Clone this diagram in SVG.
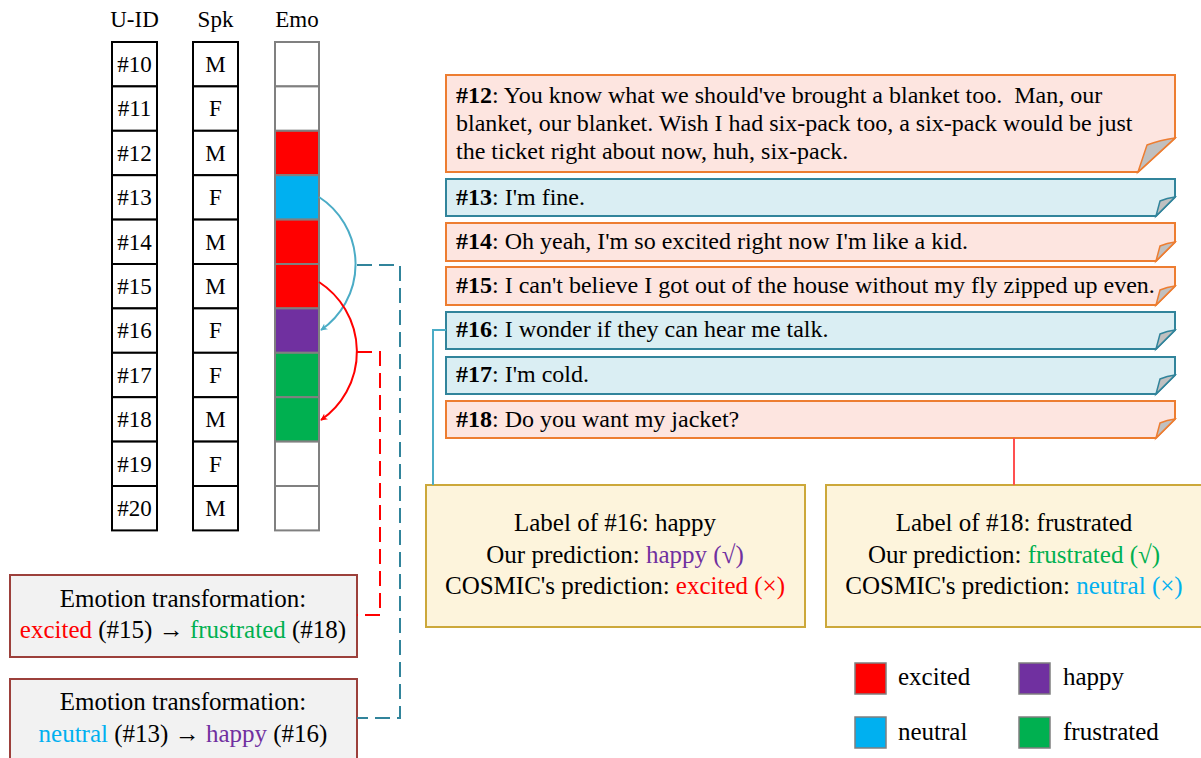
<svg xmlns="http://www.w3.org/2000/svg" width="1201" height="758" viewBox="0 0 1201 758">
<defs>
<style>
text{font-family:"Liberation Serif","Times New Roman",serif;fill:#000;}
.t{font-size:23px;text-anchor:middle;}
.u{font-size:24px;}
.lg{font-size:25px;}
.c{font-size:25px;text-anchor:middle;}
.cell{fill:#fff;stroke:#000;stroke-width:2;}
.emo{stroke:#808080;stroke-width:2;}
.pk{fill:#FDE5E0;stroke:#ED7D31;stroke-width:2;}
.bl{fill:#DAEEF3;stroke:#31849B;stroke-width:2;}
.foldp{fill:#C0C0C0;stroke:#ED7D31;stroke-width:1.5;}
.foldb{fill:#C0C0C0;stroke:#31849B;stroke-width:1.5;}
.lab{fill:#FDF4DC;stroke:#CCA83A;stroke-width:2;}
.tr{fill:#F2F2F2;stroke:#9C403B;stroke-width:2;}
.leg{stroke:#7F7F7F;stroke-width:1.5;}
.red{fill:#FF0000;} .cy{fill:#00B0F0;} .pu{fill:#7030A0;} .gr{fill:#00B050;}
</style>
<marker id="ab" viewBox="0 0 10 10" refX="9" refY="5" markerWidth="7" markerHeight="7" orient="auto" markerUnits="userSpaceOnUse"><path d="M0,0 L10,5 L0,10 L3,5 Z" fill="#4BACC6"/></marker>
<marker id="ar" viewBox="0 0 10 10" refX="9" refY="5" markerWidth="7" markerHeight="7" orient="auto" markerUnits="userSpaceOnUse"><path d="M0,0 L10,5 L0,10 L3,5 Z" fill="#FF0000"/></marker>
</defs>

<g id="headers">
<text class="t" x="134.5" y="27">U-ID</text>
<text class="t" x="215.5" y="27">Spk</text>
<text class="t" x="297" y="27">Emo</text>
</g>

<g id="uid-column">
<rect class="cell" x="112" y="42" width="45" height="44.4"/>
<rect class="cell" x="112" y="86.4" width="45" height="44.4"/>
<rect class="cell" x="112" y="130.8" width="45" height="44.4"/>
<rect class="cell" x="112" y="175.2" width="45" height="44.4"/>
<rect class="cell" x="112" y="219.6" width="45" height="44.4"/>
<rect class="cell" x="112" y="264" width="45" height="44.4"/>
<rect class="cell" x="112" y="308.4" width="45" height="44.4"/>
<rect class="cell" x="112" y="352.8" width="45" height="44.4"/>
<rect class="cell" x="112" y="397.2" width="45" height="44.4"/>
<rect class="cell" x="112" y="441.6" width="45" height="44.4"/>
<rect class="cell" x="112" y="486" width="45" height="44.4"/>
<text class="t" x="134.5" y="72">#10</text>
<text class="t" x="134.5" y="116.4">#11</text>
<text class="t" x="134.5" y="160.8">#12</text>
<text class="t" x="134.5" y="205.2">#13</text>
<text class="t" x="134.5" y="249.6">#14</text>
<text class="t" x="134.5" y="294">#15</text>
<text class="t" x="134.5" y="338.4">#16</text>
<text class="t" x="134.5" y="382.8">#17</text>
<text class="t" x="134.5" y="427.2">#18</text>
<text class="t" x="134.5" y="471.6">#19</text>
<text class="t" x="134.5" y="516">#20</text>
</g>

<g id="spk-column">
<rect class="cell" x="193" y="42" width="45" height="44.4"/>
<rect class="cell" x="193" y="86.4" width="45" height="44.4"/>
<rect class="cell" x="193" y="130.8" width="45" height="44.4"/>
<rect class="cell" x="193" y="175.2" width="45" height="44.4"/>
<rect class="cell" x="193" y="219.6" width="45" height="44.4"/>
<rect class="cell" x="193" y="264" width="45" height="44.4"/>
<rect class="cell" x="193" y="308.4" width="45" height="44.4"/>
<rect class="cell" x="193" y="352.8" width="45" height="44.4"/>
<rect class="cell" x="193" y="397.2" width="45" height="44.4"/>
<rect class="cell" x="193" y="441.6" width="45" height="44.4"/>
<rect class="cell" x="193" y="486" width="45" height="44.4"/>
<text class="t" x="215.5" y="72">M</text>
<text class="t" x="215.5" y="116.4">F</text>
<text class="t" x="215.5" y="160.8">M</text>
<text class="t" x="215.5" y="205.2">F</text>
<text class="t" x="215.5" y="249.6">M</text>
<text class="t" x="215.5" y="294">M</text>
<text class="t" x="215.5" y="338.4">F</text>
<text class="t" x="215.5" y="382.8">F</text>
<text class="t" x="215.5" y="427.2">M</text>
<text class="t" x="215.5" y="471.6">F</text>
<text class="t" x="215.5" y="516">M</text>
</g>

<g id="emo-column">
<rect class="emo" fill="#fff" x="275" y="42" width="44" height="44.4"/>
<rect class="emo" fill="#fff" x="275" y="86.4" width="44" height="44.4"/>
<rect class="emo" fill="#FF0000" x="275" y="130.8" width="44" height="44.4"/>
<rect class="emo" fill="#00B0F0" x="275" y="175.2" width="44" height="44.4"/>
<rect class="emo" fill="#FF0000" x="275" y="219.6" width="44" height="44.4"/>
<rect class="emo" fill="#FF0000" x="275" y="264" width="44" height="44.4"/>
<rect class="emo" fill="#7030A0" x="275" y="308.4" width="44" height="44.4"/>
<rect class="emo" fill="#00B050" x="275" y="352.8" width="44" height="44.4"/>
<rect class="emo" fill="#00B050" x="275" y="397.2" width="44" height="44.4"/>
<rect class="emo" fill="#fff" x="275" y="441.6" width="44" height="44.4"/>
<rect class="emo" fill="#fff" x="275" y="486" width="44" height="44.4"/>
</g>

<g id="utt12">
<path class="pk" d="M446,75 H1175 V138 L1138,172 H446 Z"/>
<path class="foldp" d="M1138,172 L1147,145 Q1160,140 1175,138 Z"/>
<text class="u" x="456" y="103"><tspan font-weight="bold">#12</tspan>: You know what we should've brought a blanket too.&#160; Man, our</text>
<text class="u" x="456" y="131">blanket, our blanket. Wish I had six-pack too, a six-pack would be just</text>
<text class="u" x="456" y="159">the ticket right about now, huh, six-pack.</text>
</g>
<g id="utt13">
<path class="bl" d="M446,179 H1175 V197 L1156,216 H446 Z"/>
<path class="foldb" d="M1156,216 L1160,201 Q1167,198 1175,197 Z"/>
<text class="u" x="456" y="205"><tspan font-weight="bold">#13</tspan>: I'm fine.</text>
</g>
<g id="utt14">
<path class="pk" d="M446,223 H1175 V242 L1156,261 H446 Z"/>
<path class="foldp" d="M1156,261 L1160,246 Q1167,243 1175,242 Z"/>
<text class="u" x="456" y="249"><tspan font-weight="bold">#14</tspan>: Oh yeah, I'm so excited right now I'm like a kid.</text>
</g>
<g id="utt15">
<path class="pk" d="M446,267 H1175 V286 L1156,305 H446 Z"/>
<path class="foldp" d="M1156,305 L1160,290 Q1167,287 1175,286 Z"/>
<text class="u" x="456" y="293"><tspan font-weight="bold">#15</tspan>: I can't believe I got out of the house without my fly zipped up even.</text>
</g>
<g id="utt16">
<path class="bl" d="M446,312 H1175 V330 L1156,349 H446 Z"/>
<path class="foldb" d="M1156,349 L1160,334 Q1167,331 1175,330 Z"/>
<text class="u" x="456" y="337"><tspan font-weight="bold">#16</tspan>: I wonder if they can hear me talk.</text>
</g>
<g id="utt17">
<path class="bl" d="M446,357 H1175 V375 L1156,394 H446 Z"/>
<path class="foldb" d="M1156,394 L1160,379 Q1167,376 1175,375 Z"/>
<text class="u" x="456" y="382"><tspan font-weight="bold">#17</tspan>: I'm cold.</text>
</g>
<g id="utt18">
<path class="pk" d="M446,401 H1175 V419 L1156,438 H446 Z"/>
<path class="foldp" d="M1156,438 L1160,423 Q1167,420 1175,419 Z"/>
<text class="u" x="456" y="427"><tspan font-weight="bold">#18</tspan>: Do you want my jacket?</text>
</g>

<g id="label16">
<rect class="lab" x="426" y="485" width="379" height="142"/>
<text class="c" x="615" y="531">Label of #16: happy</text>
<text class="c" x="615" y="563">Our prediction: <tspan fill="#7030A0">happy (√)</tspan></text>
<text class="c" x="615" y="594">COSMIC's prediction: <tspan fill="#FF0000">excited (×)</tspan></text>
</g>
<g id="label18">
<rect class="lab" x="826" y="485" width="380" height="142"/>
<text class="c" x="1014" y="531">Label of #18: frustrated</text>
<text class="c" x="1014" y="563">Our prediction: <tspan fill="#00B050">frustrated (√)</tspan></text>
<text class="c" x="1014" y="594">COSMIC's prediction: <tspan fill="#00B0F0">neutral (×)</tspan></text>
</g>

<g id="trans1">
<rect class="tr" x="10" y="575" width="347" height="82"/>
<text class="c" x="183" y="607">Emotion transformation:</text>
<text class="c" x="183" y="638"><tspan fill="#FF0000">excited</tspan> (#15) → <tspan fill="#00B050">frustrated</tspan> (#18)</text>
</g>
<g id="trans2">
<rect class="tr" x="10" y="679" width="347" height="90"/>
<text class="c" x="183" y="710">Emotion transformation:</text>
<text class="c" x="183" y="742"><tspan fill="#00B0F0">neutral</tspan> (#13) → <tspan fill="#7030A0">happy</tspan> (#16)</text>
</g>

<g id="legend">
<rect class="leg red" x="855" y="663" width="31" height="31"/>
<text class="lg" x="898" y="685">excited</text>
<rect class="leg pu" x="1019" y="663" width="31" height="31"/>
<text class="lg" x="1063" y="685">happy</text>
<rect class="leg cy" x="855" y="717" width="31" height="31"/>
<text class="lg" x="898" y="740">neutral</text>
<rect class="leg gr" x="1019" y="717" width="31" height="31"/>
<text class="lg" x="1063" y="740">frustrated</text>
</g>

<g id="connectors" fill="none" stroke-width="2">
<path d="M319,197 A80,80 0 0 1 321,330" stroke="#4BACC6" marker-end="url(#ab)"/>
<path d="M319,282 A83,83 0 0 1 321,420" stroke="#FF0000" marker-end="url(#ar)"/>
<path d="M357,265 H400 V718 H357" stroke="#31849B" stroke-dasharray="15 7"/>
<path d="M357,352 H380 V615 H357" stroke="#FF0000" stroke-dasharray="15 7"/>
<path d="M446,330 H433 V485" stroke="#4BACC6"/>
<path d="M1014,438 V485" stroke="#FF5050"/>
</g>
</svg>
